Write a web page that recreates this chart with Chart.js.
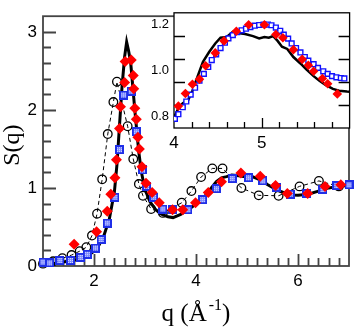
<!DOCTYPE html>
<html>
<head>
<meta charset="utf-8">
<script src="https://cdn.jsdelivr.net/npm/chart.js@4"></script>
<style>
  body { margin: 0; background: #fff; }
  #wrap { position: relative; width: 355px; height: 328px; }
  #wrap canvas { position: absolute; top: 0; }
</style>
</head>
<body>
<div id="wrap">
  <canvas id="main" width="355" height="328" style="left:0"></canvas>
  <canvas id="inset" width="215" height="160" style="left:140px"></canvas>
</div>
<script>
// ---- main panel data ----
const lineQ = [1.0, 1.2, 1.4, 1.6, 1.8, 1.9, 2.0, 2.1, 2.2, 2.3, 2.4, 2.45, 2.5, 2.55, 2.6, 2.64, 2.68, 2.72, 2.76, 2.8, 2.84, 2.88, 2.93, 3.0, 3.1, 3.2, 3.3, 3.45, 3.55, 3.7, 3.85, 4.0, 4.1, 4.2, 4.3, 4.4, 4.5, 4.6, 4.7, 4.8, 4.9, 5.0, 5.1, 5.2, 5.3, 5.4, 5.5, 5.6, 5.7, 5.8, 5.9, 6.0, 6.2, 6.4, 6.6, 6.8, 7.0];
const lineS = [0.02, 0.03, 0.05, 0.07, 0.11, 0.14, 0.19, 0.27, 0.40, 0.60, 0.95, 1.3, 1.8, 2.3, 2.68, 2.87, 2.75, 2.6, 2.3, 2.0, 1.72, 1.45, 1.2, 0.98, 0.82, 0.73, 0.67, 0.63, 0.62, 0.66, 0.72, 0.795, 0.857, 0.91, 1.0, 1.08, 1.13, 1.145, 1.165, 1.158, 1.149, 1.14, 1.145, 1.12, 1.09, 1.045, 1.005, 0.97, 0.945, 0.92, 0.91, 0.905, 0.92, 0.96, 1.0, 1.02, 1.03];

const circQ = [1.0, 1.2, 1.38, 1.56, 1.72, 1.85, 1.96, 2.06, 2.16, 2.27, 2.38, 2.45, 2.66, 2.77, 2.88, 2.96, 3.12, 3.35, 3.72, 3.91, 4.10, 4.32, 4.52, 4.89, 5.23, 5.62, 6.03, 6.41, 6.80];
const circS = [0.03, 0.06, 0.10, 0.14, 0.19, 0.24, 0.39, 0.67, 1.11, 1.69, 2.10, 2.36, 1.79, 1.37, 1.05, 0.90, 0.73, 0.68, 0.81, 0.96, 1.14, 1.25, 1.25, 1.00, 0.905, 0.90, 1.02, 1.09, 1.02];

const diamQ = [1.61, 2.05, 2.26, 2.33, 2.41, 2.44, 2.50, 2.52, 2.60, 2.61, 2.73, 2.77, 2.78, 2.80, 2.83, 2.86, 2.89, 2.94, 3.02, 3.14, 3.28, 3.54, 3.74, 3.99, 4.24, 4.50, 4.88, 5.26, 5.56, 5.79, 6.19, 6.53, 6.84];
const diamS = [0.28, 0.44, 0.70, 0.92, 1.13, 1.36, 1.76, 2.04, 2.35, 2.62, 2.64, 2.44, 2.27, 2.02, 1.88, 1.65, 1.50, 1.27, 1.06, 0.94, 0.81, 0.72, 0.72, 0.81, 0.94, 1.08, 1.19, 1.15, 1.03, 0.93, 0.93, 1.02, 1.04];

const sqQ = [1.0, 1.13, 1.33, 1.54, 1.74, 1.87, 2.03, 2.14, 2.26, 2.41, 2.50, 2.58, 2.73, 2.83, 2.95, 3.03, 3.17, 3.35, 3.54, 3.84, 4.13, 4.40, 4.71, 5.03, 5.31, 5.57, 5.85, 6.17, 6.49, 6.76, 7.0];
const sqS = [0.05, 0.04, 0.07, 0.07, 0.11, 0.15, 0.23, 0.34, 0.55, 0.88, 1.49, 2.19, 2.24, 1.72, 1.23, 1.02, 0.88, 0.73, 0.72, 0.72, 0.85, 0.99, 1.12, 1.13, 1.09, 1.01, 0.92, 0.93, 0.98, 1.03, 1.04];

const mainXTicks = [2, 4, 6];
const mainYTicks = [0, 1, 2, 3];

// ---- inset data ----
const inLineQ = [4.0, 4.05, 4.10, 4.16, 4.21, 4.27, 4.33, 4.40, 4.47, 4.53, 4.60, 4.67, 4.73, 4.81, 4.90, 4.97, 5.03, 5.08, 5.13, 5.18, 5.23, 5.29, 5.36, 5.44, 5.51, 5.59, 5.66, 5.73, 5.81, 5.88, 5.97, 6.0];
const inLineS = [0.795, 0.836, 0.857, 0.87, 0.912, 0.975, 1.037, 1.08, 1.117, 1.142, 1.145, 1.167, 1.162, 1.158, 1.149, 1.139, 1.145, 1.142, 1.149, 1.128, 1.103, 1.093, 1.058, 1.03, 1.003, 0.975, 0.954, 0.936, 0.92, 0.912, 0.908, 0.907];

const inSqQ = [4.01, 4.05, 4.10, 4.14, 4.19, 4.24, 4.29, 4.34, 4.39, 4.43, 4.48, 4.53, 4.58, 4.62, 4.67, 4.72, 4.77, 4.82, 4.87, 4.92, 4.97, 5.02, 5.07, 5.11, 5.16, 5.21, 5.25, 5.30, 5.34, 5.39, 5.44, 5.49, 5.53, 5.59, 5.64, 5.70, 5.75, 5.80, 5.85, 5.90, 5.94];
const inSqS = [0.79, 0.81, 0.84, 0.865, 0.895, 0.925, 0.955, 0.985, 1.015, 1.045, 1.07, 1.097, 1.12, 1.139, 1.153, 1.166, 1.174, 1.181, 1.188, 1.194, 1.197, 1.199, 1.199, 1.196, 1.186, 1.172, 1.155, 1.138, 1.117, 1.097, 1.078, 1.058, 1.042, 1.027, 1.011, 0.996, 0.985, 0.975, 0.970, 0.967, 0.965];

const inDiamQ = [4.05, 4.13, 4.21, 4.29, 4.36, 4.47, 4.57, 4.71, 4.85, 5.03, 5.16, 5.24, 5.36, 5.46, 5.53, 5.59, 5.69, 5.75, 5.86];
const inDiamS = [0.845, 0.90, 0.94, 0.962, 1.02, 1.076, 1.128, 1.17, 1.198, 1.198, 1.156, 1.142, 1.09, 1.048, 1.022, 0.996, 0.965, 0.942, 0.898];

const insetXTicks = [4, 5];
const insetYTicks = [0.8, 1.0, 1.2];

const pts = (xs, ys) => xs.map((x, i) => ({ x: x, y: ys[i] }));

// blue square with the light dotted fill
function patternSquare() {
  const c = document.createElement('canvas');
  c.width = 9; c.height = 9;
  const g = c.getContext('2d');
  g.fillStyle = '#1f2fe8';
  g.fillRect(0, 0, 9, 9);
  g.fillStyle = '#7d8aff';
  g.fillRect(2, 2, 5, 5);
  g.fillStyle = '#e4e8ff';
  for (let i = 2; i < 7; i += 2)
    for (let j = 2; j < 7; j += 2) g.fillRect(i, j, 1, 1);
  return c;
}

// frame + inward ticks
const deco = {
  id: 'deco',
  beforeDatasetsDraw(chart, args, o) {
    const { ctx, chartArea: a, scales: { x, y } } = chart;
    ctx.save();
    if (o.bg) {
      ctx.fillStyle = o.bg;
      ctx.fillRect(a.left, a.top, a.right - a.left, a.bottom - a.top);
    }
    ctx.strokeStyle = o.color;
    ctx.lineWidth = o.width;
    ctx.beginPath();
    const nx = Math.round((x.max - x.min) / o.xMinor);
    for (let i = 1; i < nx; i++) {
      const v = x.min + i * o.xMinor;
      const big = Math.abs(v / o.xMajor - Math.round(v / o.xMajor)) < 1e-6;
      const px = Math.round(x.getPixelForValue(v)) + 0.5;
      ctx.moveTo(px, a.bottom);
      ctx.lineTo(px, a.bottom - (big ? o.xMaj : o.xMin));
    }
    const ny = Math.round((y.max - y.min) / o.yMinor);
    for (let i = 1; i < ny; i++) {
      const v = y.min + i * o.yMinor;
      const big = Math.abs(v / o.yMajor - Math.round(v / o.yMajor)) < 1e-6;
      const py = Math.round(y.getPixelForValue(v)) + 0.5;
      const len = big ? o.yMaj : o.yMin;
      ctx.moveTo(a.left, py);
      ctx.lineTo(a.left + len, py);
      if (o.mirrorY) {
        ctx.moveTo(a.right, py);
        ctx.lineTo(a.right - len, py);
      }
    }
    ctx.stroke();
    ctx.strokeRect(a.left, a.top, a.right - a.left, a.bottom - a.top);
    ctx.restore();
  }
};

// axis titles of the main panel
const titles = {
  id: 'titles',
  afterDraw(chart) {
    const { ctx, chartArea: a } = chart;
    ctx.save();
    ctx.fillStyle = '#000';
    ctx.font = '24px "Liberation Serif"';
    ctx.textAlign = 'center';
    ctx.textBaseline = 'middle';
    ctx.translate(13, (a.top + a.bottom) / 2 + 4);
    ctx.rotate(-Math.PI / 2);
    ctx.fillText('S(q)', 0, 0);
    ctx.restore();

    ctx.save();
    ctx.fillStyle = '#000';
    ctx.textBaseline = 'alphabetic';
    ctx.textAlign = 'left';
    const big = '25px "Liberation Serif"', small = '16px "Liberation Serif"';
    ctx.font = big;
    const w1 = ctx.measureText('q (\u00C5').width;
    const w3 = ctx.measureText(')').width;
    ctx.font = small;
    const w2 = ctx.measureText('-1').width;
    const gap = 2;
    let x0 = (a.left + a.right) / 2 - (w1 + gap + w2 + w3) / 2;
    const base = 321;
    ctx.font = big;
    ctx.fillText('q (\u00C5', x0, base);
    ctx.font = small;
    ctx.fillText('-1', x0 + w1 + gap, base - 11);
    ctx.font = big;
    ctx.fillText(')', x0 + w1 + gap + w2, base);
    ctx.restore();
  }
};

const tickFont = { family: 'Liberation Sans', size: 17 };

new Chart(document.getElementById('main'), {
  type: 'scatter',
  data: {
    datasets: [
      {
        data: pts(diamQ, diamS), pointStyle: 'rectRot', pointRadius: 5.5,
        backgroundColor: '#ff0000', borderColor: '#ff0000', borderWidth: 0, clip: false
      },
      {
        data: pts(sqQ, sqS), pointStyle: patternSquare(), pointRadius: 5, clip: false
      },
      {
        data: pts(circQ, circS), showLine: true, borderColor: '#000', borderWidth: 1,
        borderDash: [4, 3], pointStyle: 'circle', pointRadius: 4.3, pointBorderWidth: 1.3,
        pointBorderColor: '#000', pointBackgroundColor: 'rgba(0,0,0,0)', clip: false
      },
      {
        data: pts(lineQ, lineS), showLine: true, borderColor: '#000', borderWidth: 3,
        pointRadius: 0, clip: false
      }
    ]
  },
  options: {
    responsive: false,
    animation: false,
    layout: { padding: { top: 8, right: 3, left: 0, bottom: 0 } },
    plugins: {
      legend: { display: false },
      tooltip: { enabled: false },
      deco: { color: '#444', width: 1.8, xMinor: 0.2, xMajor: 2, xMaj: 12, xMin: 8,
              yMinor: 0.2, yMajor: 1, yMaj: 13, yMin: 8, mirrorY: false }
    },
    scales: {
      x: {
        type: 'linear', min: 1, max: 7,
        afterBuildTicks: s => { s.ticks = mainXTicks.map(v => ({ value: v })); },
        afterFit: s => { s.height = 62; },
        grid: { display: false, drawTicks: false },
        border: { display: false },
        ticks: { font: tickFont, color: '#000', padding: 5, maxRotation: 0, autoSkip: false }
      },
      y: {
        type: 'linear', min: 0, max: 3.2,
        afterBuildTicks: s => { s.ticks = mainYTicks.map(v => ({ value: v })); },
        afterFit: s => { s.width = 43; },
        grid: { display: false, drawTicks: false },
        border: { display: false },
        ticks: { font: tickFont, color: '#000', padding: 6, autoSkip: false }
      }
    }
  },
  plugins: [deco, titles]
});

new Chart(document.getElementById('inset'), {
  type: 'scatter',
  data: {
    datasets: [
      {
        data: pts(inDiamQ, inDiamS), pointStyle: 'rectRot', pointRadius: 4.8,
        backgroundColor: '#ff0000', borderColor: '#ff0000', borderWidth: 0
      },
      {
        data: pts(inSqQ, inSqS), pointStyle: 'rect', pointRadius: 3.4, pointBorderWidth: 1.4,
        pointBorderColor: '#1010ff', pointBackgroundColor: '#fff'
      },
      {
        data: pts(inLineQ, inLineS), showLine: true, borderColor: '#000', borderWidth: 2.5,
        pointRadius: 0
      }
    ]
  },
  options: {
    responsive: false,
    animation: false,
    layout: { padding: { top: 8, right: 3, left: 0, bottom: 0 } },
    plugins: {
      legend: { display: false },
      tooltip: { enabled: false },
      deco: { bg: '#fff', color: '#000', width: 1.3, xMinor: 0.2, xMajor: 1, xMaj: 10, xMin: 6,
              yMinor: 0.1, yMajor: 0.2, yMaj: 11, yMin: 11, mirrorY: true }
    },
    scales: {
      x: {
        type: 'linear', min: 4, max: 6,
        afterBuildTicks: s => { s.ticks = insetXTicks.map(v => ({ value: v })); },
        afterFit: s => { s.height = 32; },
        grid: { display: false, drawTicks: false },
        border: { display: false },
        ticks: { font: tickFont, color: '#000', padding: 5, maxRotation: 0, autoSkip: false }
      },
      y: {
        type: 'linear', min: 0.75, max: 1.25,
        afterBuildTicks: s => { s.ticks = insetYTicks.map(v => ({ value: v })); },
        afterFit: s => { s.width = 34; },
        grid: { display: false, drawTicks: false },
        border: { display: false },
        ticks: { font: { family: 'Liberation Sans', size: 13 }, color: '#000', padding: 5,
                 autoSkip: false, callback: v => v.toFixed(1) }
      }
    }
  },
  plugins: [deco]
});
</script>
</body>
</html>
